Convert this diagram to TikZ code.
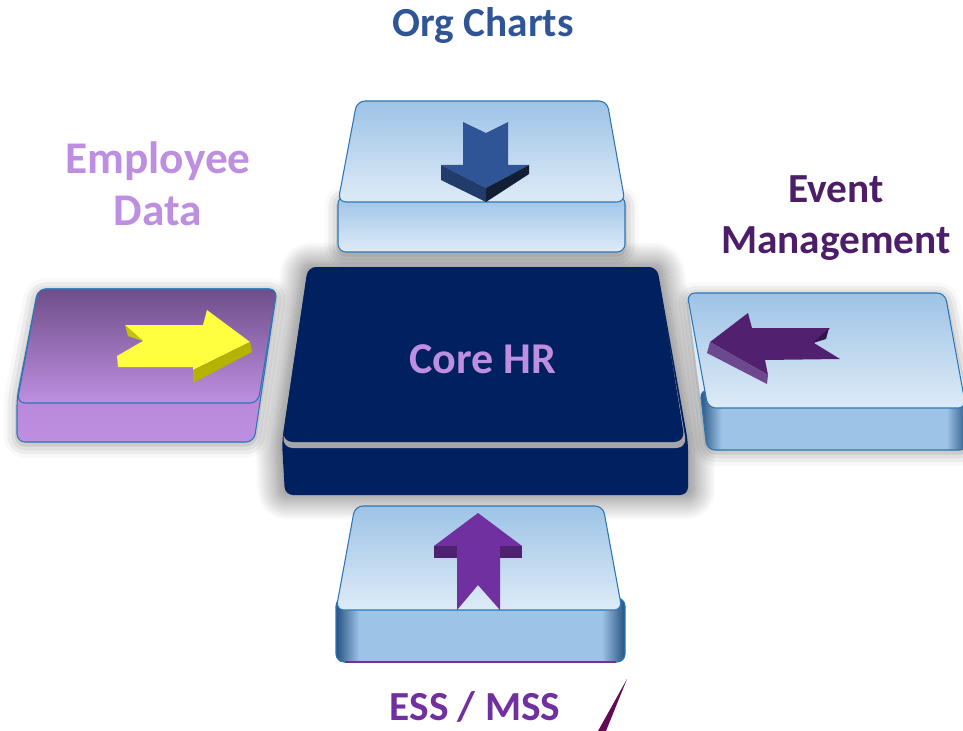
\documentclass[tikz,border=0pt]{standalone}
\usepackage{fontspec}
\setmainfont{Carlito}
\usetikzlibrary{shadows.blur}
\definecolor{skyface}{RGB}{157,195,230}
\definecolor{paleface}{RGB}{222,235,247}
\definecolor{rimblue}{RGB}{46,117,182}
\definecolor{edgedark}{RGB}{38,82,128}
\definecolor{orgblue}{RGB}{47,85,151}
\definecolor{corenavy}{RGB}{0,32,96}
\definecolor{corerim}{RGB}{166,166,166}
\definecolor{lilac}{RGB}{190,143,224}
\definecolor{plum}{RGB}{110,78,138}
\definecolor{mauve}{RGB}{168,122,208}
\definecolor{grape}{RGB}{112,48,160}
\definecolor{eggplant}{RGB}{76,30,104}
\definecolor{lemon}{RGB}{255,255,64}
\definecolor{mustard}{RGB}{179,179,0}
\definecolor{ink}{RGB}{100,10,85}
\pgfdeclarehorizontalshading{edgeshade}{100bp}{color(0bp)=(edgedark); color(25bp)=(edgedark); color(29bp)=(skyface); color(71bp)=(skyface); color(75bp)=(edgedark); color(100bp)=(edgedark)}
\tikzset{
    slab/.style={draw=rimblue, line width=0.8pt, rounded corners=6pt},
    skytop/.style={slab, top color=skyface, bottom color=paleface},
    skyfront/.style={slab, shade, shading=edgeshade},
    violettop/.style={slab, top color=plum, bottom color=lilac},
    violetfront/.style={slab, top color=mauve, bottom color=lilac},
    glow/.style={blur shadow={shadow xshift=0pt, shadow yshift=-2pt, shadow blur radius=10pt, shadow opacity=40}},
    coreglow/.style={blur shadow={shadow xshift=0pt, shadow yshift=0pt, shadow scale=1.03, shadow blur radius=16pt, shadow blur steps=24, shadow opacity=55}},
    heading/.style={font=\fontsize{31}{38}\selectfont\bfseries, align=center},
}
\begin{document}
\begin{tikzpicture}[x=0.75pt, y=-0.75pt]
\clip (0,0) rectangle (963,731);
% core block
\fill[corenavy, rounded corners=6pt, coreglow] (308,267) -- (657,267) -- (688,442) -- (688,495) -- (285,495) -- (282,442) -- cycle;
\fill[corerim, rounded corners=8pt] (308,273) -- (657,273) -- (687,448) -- (282,448) -- cycle;
\fill[corenavy, rounded corners=8pt] (308,267) -- (657,267) -- (685,442) -- (282,442) -- cycle;
% ----
% org charts
\draw[slab, top color=skyface, bottom color=paleface, glow] (338,196) rectangle (625,252);
\draw[skytop] (357,101) -- (607,101) -- (625,202) -- (338,202) -- cycle;
\fill[orgblue] (463,122) -- (486,133) -- (508,122) -- (508,165) -- (529,165) -- (486,188) -- (441,165) -- (463,165) -- cycle;
\fill[orgblue!70!black] (441,165) -- (486,188) -- (486,202) -- (441,180) -- cycle;
\fill[orgblue!35!black] (529,165) -- (529,174) -- (486,202) -- (486,188) -- cycle;
% ----
% employee data
\draw[violetfront, glow] (38,289) -- (277,289) -- (254,442) -- (17,442) -- (17,398) -- cycle;
\draw[violettop] (38,289) -- (277,289) -- (258,403) -- (17,403) -- cycle;
\fill[lemon] (125,325) -- (143,341) -- (117,356) -- (118,367) -- (193,367) -- (193,370) -- (250,342) -- (207,310) -- (203,325) -- cycle;
\fill[mustard] (193,370) -- (250,342) -- (252,352) -- (193,383) -- cycle;
\fill[mustard!80!lemon] (125,325) -- (128,336) -- (143,341) -- cycle;
% ----
% event management
\fill[paleface, rounded corners=6pt, glow] (687,293) -- (945,293) -- (968,408) -- (968,450) -- (707,450) -- cycle;
\draw[skyfront] (700,390) -- (968,390) -- (968,450) -- (707,450) -- cycle;
\draw[skytop] (687,293) -- (945,293) -- (966,408) -- (708,408) -- cycle;
\fill[eggplant!85!grape] (710,342) -- (748,313) -- (752,328) -- (830,328) -- (814,343) -- (840,359) -- (765,360) -- (768,375) -- cycle;
\fill[plum!80!grape] (710,342) -- (768,375) -- (767,384) -- (707,353) -- cycle;
\fill[eggplant!70!black] (829,328) -- (813,343) -- (826,339) -- cycle;
% ----
% ess / mss
\draw[skyfront] (336,598) rectangle (625,662);
\draw[grape, line width=1pt] (345,662) -- (616,662);
\draw[skytop] (355,506) -- (603,506) -- (622,610) -- (336,610) -- cycle;
\fill[grape] (478,513) -- (522,546) -- (500,546) -- (500,610) -- (478,585) -- (457,610) -- (457,546) -- (434,546) -- cycle;
\fill[grape!70!black] (434,546) -- (457,546) -- (457,558) -- (434,558) -- cycle;
\fill[grape!70!black] (500,546) -- (522,546) -- (522,558) -- (500,558) -- cycle;
\fill[ink] (627,679) -- (598,731) -- (606,731) -- cycle;
% ----
\node[heading, text=orgblue, anchor=base] (org) at (483,37) {Org Charts};
\node[heading, text=lilac, font=\fontsize{34}{38}\selectfont\bfseries] (employee) at (158,184) {Employee\\[1pt]Data};
\node[heading, text=eggplant] (event) at (836,218) {Event\\Management};
\node[heading, text=lilac, font=\fontsize{33}{40}\selectfont\bfseries, anchor=base] (core) at (483,373) {Core HR};
\node[heading, text=grape, anchor=base] (ess) at (475,720) {ESS / MSS};
\end{tikzpicture}
\end{document}
